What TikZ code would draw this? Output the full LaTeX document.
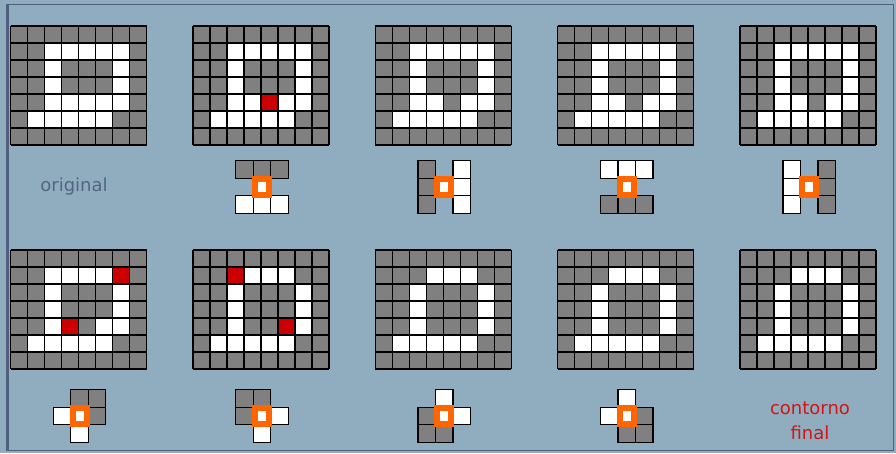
\documentclass[tikz,border=0pt]{standalone}
\usepackage{fontspec}
\setmainfont{DejaVu Sans}
\definecolor{bg}{RGB}{143,173,191}
\definecolor{frcol}{RGB}{80,95,125}
\definecolor{cg}{RGB}{128,128,128}
\definecolor{redcell}{RGB}{204,0,0}
\definecolor{orng}{RGB}{255,102,0}
\definecolor{lbl}{RGB}{85,100,130}
\definecolor{lblred}{RGB}{210,20,20}
\tikzset{
  gridline/.style={black, line width=1.4pt},
  cellbox/.style={draw=black, line width=1.3pt},
  lbltext/.style={font=\fontsize{18}{24}\selectfont, align=center, inner sep=0pt}
}
\newcommand\pixgrid[3]{%
  \fill[cg] (#1,#2) rectangle ++(136,119);
  \foreach \c/\r in #3 \fill[white] ({#1+17*\c},{#2+17*\r}) rectangle ++(17,17);
}
\newcommand\gridlines[2]{%
  \foreach \i in {0,...,8} \draw[gridline] ({#1+17*\i},#2) -- ++(0,119);
  \foreach \j in {0,...,7} \draw[gridline] (#1,{#2+17*\j}) -- ++(136,0);
}
\newcommand\maskpat[3]{%
  \foreach \c/\r/\t in #3 \draw[cellbox, fill=\t] ({#1+17.5*\c-8.75},{#2+17.5*\r-8.75}) rectangle ++(17.5,17.5);
  \fill[orng] ({#1-10},{#2-11}) rectangle ({#1+10},{#2+11});
  \fill[white] ({#1-4},{#2-5}) rectangle ({#1+4},{#2+5});
}
\def\baseW{2/1,3/1,4/1,5/1,6/1,2/2,6/2,2/3,6/3,2/4,3/4,4/4,5/4,6/4,1/5,2/5,3/5,4/5,5/5}
\def\stepW{2/1,3/1,4/1,5/1,6/1,2/2,6/2,2/3,6/3,2/4,3/4,5/4,6/4,1/5,2/5,3/5,4/5,5/5}
\def\finW{3/1,4/1,5/1,2/2,6/2,2/3,6/3,2/4,6/4,1/5,2/5,3/5,4/5,5/5}
\def\mA{-1/-1/cg,0/-1/cg,1/-1/cg,-1/1/white,0/1/white,1/1/white}
\def\mB{-1/-1/cg,-1/0/cg,-1/1/cg,1/-1/white,1/0/white,1/1/white}
\def\mC{-1/-1/white,0/-1/white,1/-1/white,-1/1/cg,0/1/cg,1/1/cg}
\def\mD{-1/-1/white,-1/0/white,-1/1/white,1/-1/cg,1/0/cg,1/1/cg}
\def\mE{0/-1/cg,1/-1/cg,-1/0/white,1/0/cg,0/1/white}
\def\mF{-1/-1/cg,0/-1/cg,-1/0/cg,1/0/white,0/1/white}
\def\mG{0/-1/white,-1/0/cg,1/0/white,-1/1/cg,0/1/cg}
\def\mH{0/-1/white,-1/0/white,1/0/cg,0/1/cg,1/1/cg}
\begin{document}
\begin{tikzpicture}[x=1pt,y=-1pt]
\useasboundingbox (0,0) rectangle (896,453);
\fill[bg] (0,0) rectangle (896,453);
\draw[frcol, line width=1.2pt] (7,4.5) rectangle (893.5,450.5);
\draw[frcol, line width=3pt] (7.8,4) -- (7.8,451);
% top row
\pixgrid{10.5}{26}{\baseW}
\pixgrid{192.9}{26}{\baseW}
\fill[redcell] ({192.9+17*4},{26+17*4}) rectangle ++(17,17);
\pixgrid{375.3}{26}{\stepW}
\pixgrid{557.7}{26}{\stepW}
\pixgrid{740.1}{26}{\stepW}
% bottom row
\pixgrid{10.5}{250}{\stepW}
\fill[redcell] ({10.5+17*6},{250+17*1}) rectangle ++(17,17);
\fill[redcell] ({10.5+17*3},{250+17*4}) rectangle ++(17,17);
\pixgrid{192.9}{250}{\finW}
\fill[redcell] ({192.9+17*2},{250+17*1}) rectangle ++(17,17);
\fill[redcell] ({192.9+17*5},{250+17*4}) rectangle ++(17,17);
\fill[white] ({192.9+17*6},{250+17*4}) rectangle ++(17,17);
\pixgrid{375.3}{250}{\finW}
\pixgrid{557.7}{250}{\finW}
\pixgrid{740.1}{250}{\finW}
\foreach \gx in {10.5,192.9,375.3,557.7,740.1}{
  \gridlines{\gx}{26}
  \gridlines{\gx}{250}
}
% masks
\maskpat{261.9}{187}{\mA}
\maskpat{444.3}{187}{\mB}
\maskpat{626.7}{187}{\mC}
\maskpat{809.1}{187}{\mD}
\maskpat{79.5}{416}{\mE}
\maskpat{261.9}{416}{\mF}
\maskpat{444.3}{416}{\mG}
\maskpat{626.7}{416}{\mH}
% labels
\node[lbltext, text=lbl] (orig) at (74,187) {original};
\node[lbltext, text=lblred, font=\fontsize{18}{25}\selectfont] (final) at (810,420.5) {contorno\\final};
\end{tikzpicture}
\end{document}
